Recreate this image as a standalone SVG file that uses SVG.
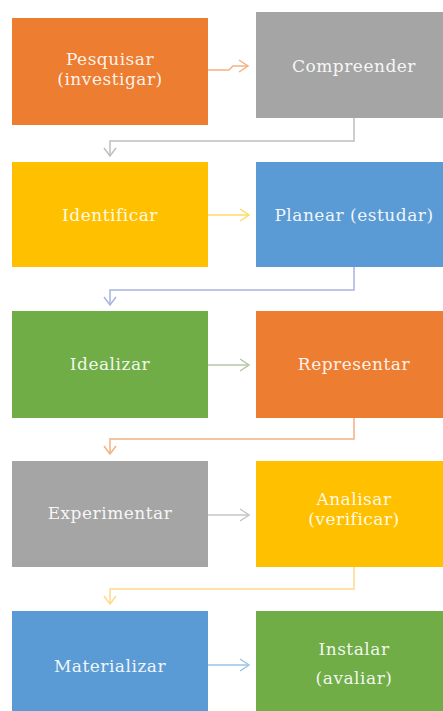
<svg xmlns="http://www.w3.org/2000/svg" width="443" height="711" viewBox="0 0 443 711">
  <defs>
    <style>
      .lbl { font-family: "DejaVu Serif", "Liberation Serif", serif; font-size: 17px; fill: #ffffff; fill-opacity: 0.92; text-anchor: middle; letter-spacing: 0.5px; }
      .orange { fill: #ED7D31; }
      .gray { fill: #A5A5A5; }
      .yellow { fill: #FFC000; }
      .blue { fill: #5B9BD5; }
      .green { fill: #70AD47; }
      .conn { fill: none; stroke-width: 1.5; }
      .head { fill: none; stroke-width: 1.5; stroke-linejoin: miter; }
    </style>
  </defs>
  <rect width="443" height="711" fill="#ffffff"/>

  <!-- connectors -->
  <g id="connectors">
    <!-- horizontal links between the two columns -->
    <g stroke="#F4B183">
      <path class="conn" d="M208,70 H229 L233,66 H247"/>
      <path class="head" d="M239,60 L248,66 L239,72"/>
    </g>
    <g stroke="#FFD966">
      <path class="conn" d="M208,215 H248"/>
      <path class="head" d="M240,209 L249,215 L240,221"/>
    </g>
    <g stroke="#B4C7A8">
      <path class="conn" d="M208,365 H248"/>
      <path class="head" d="M240,359 L249,365 L240,371"/>
    </g>
    <g stroke="#C4C4C4">
      <path class="conn" d="M208,515 H248"/>
      <path class="head" d="M240,509 L249,515 L240,521"/>
    </g>
    <g stroke="#9DC3E6">
      <path class="conn" d="M208,665 H248"/>
      <path class="head" d="M240,659 L249,665 L240,671"/>
    </g>

    <!-- elbow links back to the left column -->
    <g stroke="#BFBFBF">
      <path class="conn" d="M354,118 V141 H110 V155"/>
      <path class="head" d="M104,148 L110,156 L116,148"/>
    </g>
    <g stroke="#A9B4DE">
      <path class="conn" d="M354,267 V290 H110 V304"/>
      <path class="head" d="M104,297 L110,305 L116,297"/>
    </g>
    <g stroke="#F4B183">
      <path class="conn" d="M354,418 V439 H110 V453"/>
      <path class="head" d="M104,446 L110,454 L116,446"/>
    </g>
    <g stroke="#FFD98C">
      <path class="conn" d="M354,567 V589 H110 V603"/>
      <path class="head" d="M104,596 L110,604 L116,596"/>
    </g>
  </g>

  <!-- row 1 -->
  <g id="pesquisar">
    <rect class="orange" x="12" y="18" width="196" height="107"/>
    <text class="lbl" x="110" y="65">Pesquisar</text>
    <text class="lbl" x="110" y="85">(investigar)</text>
  </g>
  <g id="compreender">
    <rect class="gray" x="256" y="12" width="196" height="106"/>
    <text class="lbl" x="354" y="72">Compreender</text>
  </g>

  <!-- row 2 -->
  <g id="identificar">
    <rect class="yellow" x="12" y="162" width="196" height="105"/>
    <text class="lbl" x="110" y="221">Identificar</text>
  </g>
  <g id="planear">
    <rect class="blue" x="256" y="162" width="196" height="105"/>
    <text class="lbl" x="354" y="221">Planear (estudar)</text>
  </g>

  <!-- row 3 -->
  <g id="idealizar">
    <rect class="green" x="12" y="311" width="196" height="107"/>
    <text class="lbl" x="110" y="370">Idealizar</text>
  </g>
  <g id="representar">
    <rect class="orange" x="256" y="311" width="196" height="107"/>
    <text class="lbl" x="354" y="370">Representar</text>
  </g>

  <!-- row 4 -->
  <g id="experimentar">
    <rect class="gray" x="12" y="461" width="196" height="106"/>
    <text class="lbl" x="110" y="519">Experimentar</text>
  </g>
  <g id="analisar">
    <rect class="yellow" x="256" y="461" width="196" height="106"/>
    <text class="lbl" x="354" y="505">Analisar</text>
    <text class="lbl" x="354" y="525">(verificar)</text>
  </g>

  <!-- row 5 -->
  <g id="materializar">
    <rect class="blue" x="12" y="611" width="196" height="110"/>
    <text class="lbl" x="110" y="672">Materializar</text>
  </g>
  <g id="instalar">
    <rect class="green" x="256" y="611" width="196" height="110"/>
    <text class="lbl" x="354" y="655">Instalar</text>
    <text class="lbl" x="354" y="684">(avaliar)</text>
  </g>
</svg>
